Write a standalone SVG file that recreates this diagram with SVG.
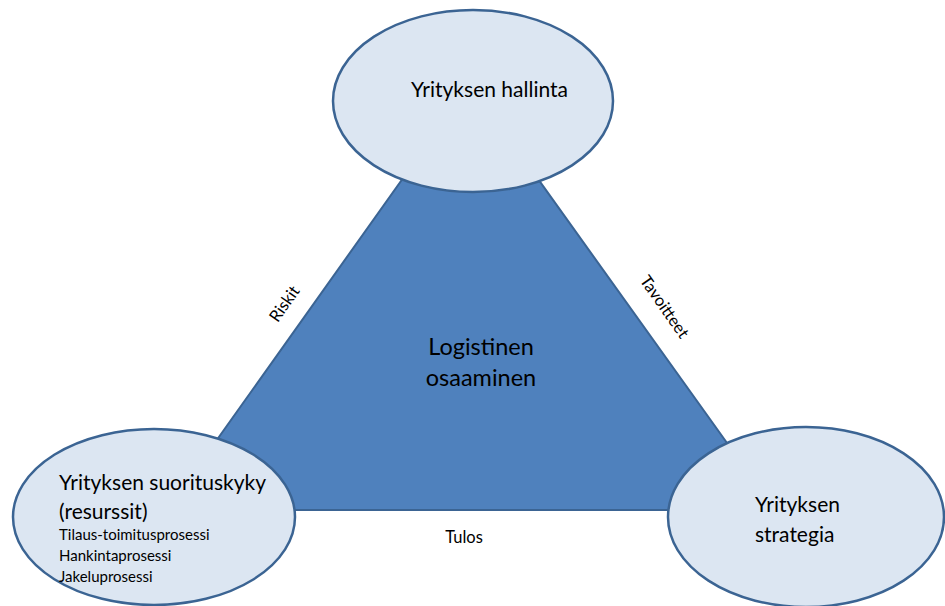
<svg xmlns="http://www.w3.org/2000/svg" width="945" height="606" viewBox="0 0 945 606">
<style>
.node{fill:#dce6f2;stroke:#3b6493;stroke-width:2.5}
.t{font-family:Lato,"Liberation Sans",sans-serif;fill:#000}
.big{font-size:21px}
.sm{font-size:15px}
.lbl{font-size:16.5px}
</style>
<rect width="945" height="606" fill="#fff"/>
<g id="connectors">
<polygon id="triangle" points="470,84 167,510 775,510" fill="#4f81bd" stroke="#3b6493" stroke-width="2"/>
<text class="t lbl" transform="translate(289,307) rotate(-55)" text-anchor="middle">Riskit</text>
<text class="t lbl" transform="translate(660,310) rotate(55)" text-anchor="middle">Tavoitteet</text>
<text class="t lbl" x="464" y="543" text-anchor="middle">Tulos</text>
</g>
<g id="center">
<text class="t" style="font-size:23.5px" x="481" y="355" text-anchor="middle">Logistinen</text>
<text class="t" style="font-size:23.5px" x="481" y="386" text-anchor="middle">osaaminen</text>
</g>
<g id="hallinta">
<ellipse class="node" cx="473" cy="101" rx="140" ry="91"/>
<text class="t big" x="411" y="97">Yrityksen hallinta</text>
</g>
<g id="suorituskyky">
<ellipse class="node" cx="154" cy="517" rx="141" ry="88"/>
<text class="t big" x="59" y="490">Yrityksen suorituskyky</text>
<text class="t big" x="59" y="519">(resurssit)</text>
<text class="t sm" x="59" y="540">Tilaus-toimitusprosessi</text>
<text class="t sm" x="59" y="561">Hankintaprosessi</text>
<text class="t sm" x="59" y="582">Jakeluprosessi</text>
</g>
<g id="strategia">
<ellipse class="node" cx="806" cy="517" rx="138" ry="90"/>
<text class="t big" x="755" y="512">Yrityksen</text>
<text class="t big" x="755" y="542">strategia</text>
</g>
</svg>
